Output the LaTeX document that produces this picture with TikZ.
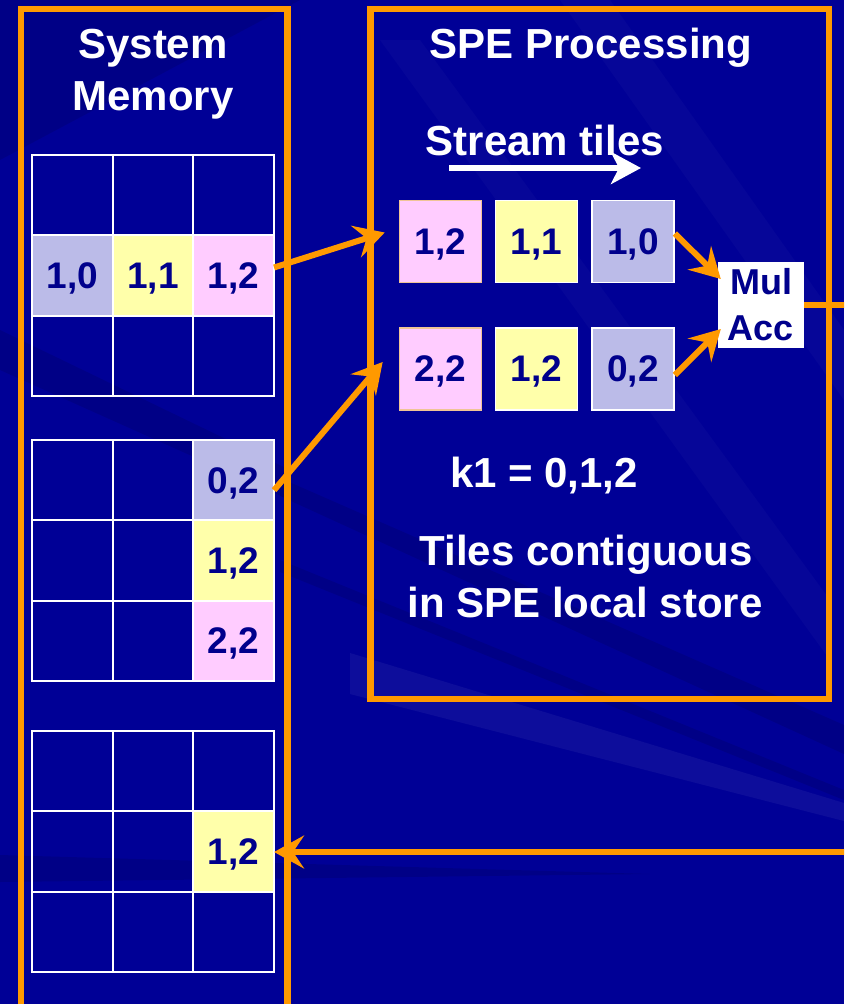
\documentclass[tikz,border=0pt]{standalone}
\usepackage{fontspec}
\setmainfont{Liberation Sans}
\usetikzlibrary{arrows.meta,calc}

\definecolor{bg}{RGB}{0,0,150}
\definecolor{frame}{RGB}{255,153,0}
\definecolor{ink}{RGB}{0,0,140}
\definecolor{lav}{RGB}{187,187,232}
\definecolor{lemon}{RGB}{255,255,170}
\definecolor{rose}{RGB}{255,204,255}
\definecolor{peach}{RGB}{240,196,150}

\newcommand\headfont{\fontsize{42}{52}\selectfont\bfseries}
\newcommand\tilefont{\fontsize{37}{44}\selectfont\bfseries}
\newcommand\macfont{\fontsize{36}{46}\selectfont\bfseries}
\def\nofill{none}

\begin{document}
\begin{tikzpicture}[x=1pt,y=-1pt,
  heading/.style={text=white,font=\headfont,inner sep=0pt,anchor=base},
  cell/.style={draw=white,line width=2pt,minimum width=80.7pt,
    minimum height=80.3pt,inner sep=0pt,outer sep=0pt,font=\tilefont,
    text=ink,text depth=0pt},
  tile/.style={minimum size=82pt,inner sep=0pt,line width=1.6pt,
    font=\tilefont,text=ink,text depth=0pt},
  frm/.style={draw=frame,line width=6.5pt},
  arr/.style={draw=frame,line width=6pt,line join=round,
    -{Stealth[length=30pt,width=33pt,inset=11pt]}},
  band/.style={fill=white,opacity=0.05},
  shade/.style={fill=black,opacity=0.10}]

\useasboundingbox (0,0) rectangle (844,1004);
\clip (0,0) rectangle (844,1004);
\fill[bg] (0,0) rectangle (844,1004);

% soft diagonal streaks of the backdrop
\fill[shade] (0,0) -- (300,0) -- (0,160) -- cycle;
\fill[shade] (0,330) -- (290,470) -- (290,500) -- (0,370) -- cycle;
\fill[shade] (280,478) -- (844,725) -- (844,754) -- (280,496) -- cycle;
\fill[shade] (280,560) -- (844,790) -- (844,800) -- (280,572) -- cycle;
\fill[shade] (0,855) -- (650,874) -- (0,882) -- cycle;
\fill[band] (350,653) -- (844,803) -- (844,821) -- (350,694) -- cycle;
\fill[band,opacity=0.025] (560,0) -- (610,0) -- (844,330) -- (844,400) -- cycle;
\fill[band,opacity=0.025] (380,40) -- (420,40) -- (830,600) -- (830,660) -- cycle;

% frames
\draw[frm] (21,9) rectangle (287.5,1030);
\draw[frm] (370.5,9) rectangle (829,699);

% headings
\node[heading] (sys1) at (153,58) {System};
\node[heading] (sys2) at (153,110) {Memory};
\node[heading] (spe) at (591,58) {SPE Processing};
\node[heading] (stream) at (545,155) {Stream tiles};
\coordinate (s0) at (449,168);
\coordinate (s1) at (641,168);
\draw[white,line width=6.5pt,-{Stealth[length=30pt,width=32pt,inset=8pt]}] (s0) -- (s1);
\node[heading] (k1) at (544,487) {k1 = 0,1,2};
\node[heading] (tc1) at (586,565) {Tiles contiguous};
\node[heading] (tc2) at (585,617) {in SPE local store};

% memory grids
\foreach \r/\c/\f in {0/0/none,0/1/none,0/2/none,1/0/lav,1/1/lemon,1/2/rose,2/0/none,2/1/none,2/2/none}
  \node[cell,fill=\f] (g1-\r\c) at ({72.3+80.7*\c},{195.2+80.3*\r}) {\ifx\f\nofill\else\r,\c\fi};
\foreach \r/\c/\f in {0/0/none,0/1/none,0/2/lav,1/0/none,1/1/none,1/2/lemon,2/0/none,2/1/none,2/2/rose}
  \node[cell,fill=\f] (g2-\r\c) at ({72.3+80.7*\c},{480.2+80.3*\r}) {\ifx\f\nofill\else\r,\c\fi};
\foreach \r/\c/\f in {0/0/none,0/1/none,0/2/none,1/0/none,1/1/none,1/2/lemon,2/0/none,2/1/none,2/2/none}
  \node[cell,fill=\f] (g3-\r\c) at ({72.3+80.7*\c},{771.2+80.3*\r}) {\ifx\f\nofill\else\r,\c\fi};

% tiles streamed into the local store
\node[tile,fill=rose,draw=peach] (ta12) at (440.5,241.5) {1,2};
\node[tile,fill=lemon,draw=white] (ta11) at (536.5,241.5) {1,1};
\node[tile,fill=lav,draw=white] (ta10) at (633,241.5) {1,0};
\node[tile,fill=rose,draw=peach] (tb22) at (440.5,369) {2,2};
\node[tile,fill=lemon,draw=white] (tb12) at (536.5,369) {1,2};
\node[tile,fill=lav,draw=white] (tb02) at (633,369) {0,2};

% multiply-accumulate unit
\node[fill=white,minimum size=86pt,inner sep=0pt,align=center,text=ink,font=\macfont]
  (mac) at (761,305) {Mul\\Acc};

% data flow
\draw[arr] ($(g1-12.east)+(0,-8)$) -- ($(ta12.west)+(-14,-9)$);
\draw[arr] ($(g2-02.east)+(0,10)$) -- ($(tb22.west)+(-16,-7)$);
\draw[arr] ($(ta10.east)+(0,-8)$) -- ($(mac.west)+(3,-26)$);
\draw[arr] ($(tb02.east)+(0,6)$) -- ($(mac.west)+(3,24)$);
\coordinate (outR) at (880,305);
\coordinate (backR) at (880,852);
\draw[arr] (mac.east) -- (outR) -- (backR) -- (g3-12.east |- backR);
\end{tikzpicture}
\end{document}
